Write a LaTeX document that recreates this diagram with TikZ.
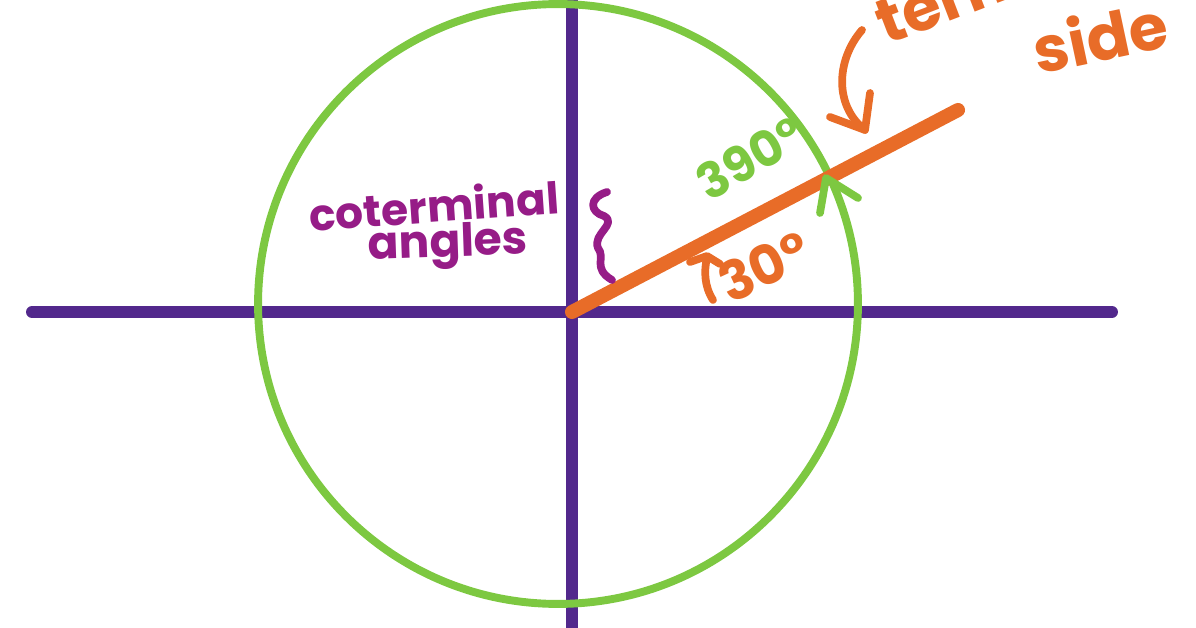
\documentclass[tikz,border=0pt]{standalone}
\usepackage{fontspec}
\newfontfamily\hand{Poppins}
\usepackage{tikz}
\usetikzlibrary{calc}
\definecolor{axispurple}{RGB}{82,40,140}
\definecolor{circgreen}{RGB}{125,200,65}
\definecolor{termorange}{RGB}{232,108,40}
\definecolor{notemagenta}{RGB}{150,28,135}
\begin{document}
\begin{tikzpicture}[x=0.02cm,y=-0.02cm,
  axis/.style={axispurple,line width=6.8pt,line cap=round},
  ring/.style={circgreen,line width=4.5pt},
  side/.style={termorange,line width=8pt,line cap=round},
  pen/.style={line width=4.4pt,line cap=round,line join=round},
  word/.style={inner sep=0pt,font=\hand\bfseries\fontsize{#1}{#1}\selectfont},
  word/.default=26
  ]
\useasboundingbox (0,0) rectangle (1196,628);
\clip (0,0) rectangle (1196,628);
\coordinate (O) at (572,312);
\coordinate (T) at (958,110);
\coordinate (P) at (826,178);
% axes
\draw[axis] (32,312) -- (1112,312);
\draw[axis] (572,-10) -- (572,640);
% unit circle
\draw[ring] (558,304) circle [radius=6cm];
% terminal side
\draw[side] (O) -- (T);
% labels
\node[word=25,notemagenta,rotate=4] (cot) at (434,205) {coterminal};
\node[word=26,notemagenta,rotate=2] (ang) at (448,246) {angles};
\node[word=28,circgreen,rotate=30] (big) at (750,158) {390°};
\node[word=31,termorange,rotate=25] (small) at (764,266) {30°};
\node[word=36,termorange,rotate=21,anchor=base west] (term) at (886,46) {terminal};
\node[word=36,termorange,rotate=12] (sd) at (1100,36) {side};
% squiggle
\draw[pen,notemagenta] (607,192) .. controls (588,198) and (590,212) .. (604,216)
  .. controls (618,224) and (592,234) .. (598,248)
  .. controls (606,258) and (592,268) .. (612,280);
% arrow on the circle
\draw[pen,circgreen] (820,213) -- (P) -- (858,198);
% arrow to the terminal side
\draw[pen,termorange] (862,30) .. controls (836,60) and (834,106) .. (865,130);
\draw[pen,termorange] (830,117) -- (865,130) -- (870,93);
% small angle mark
\draw[pen,termorange] (713,300) .. controls (704,286) and (704,270) .. (707,258);
\draw[pen,termorange] (690,262) -- (707,256) -- (720,264);
\end{tikzpicture}
\end{document}
